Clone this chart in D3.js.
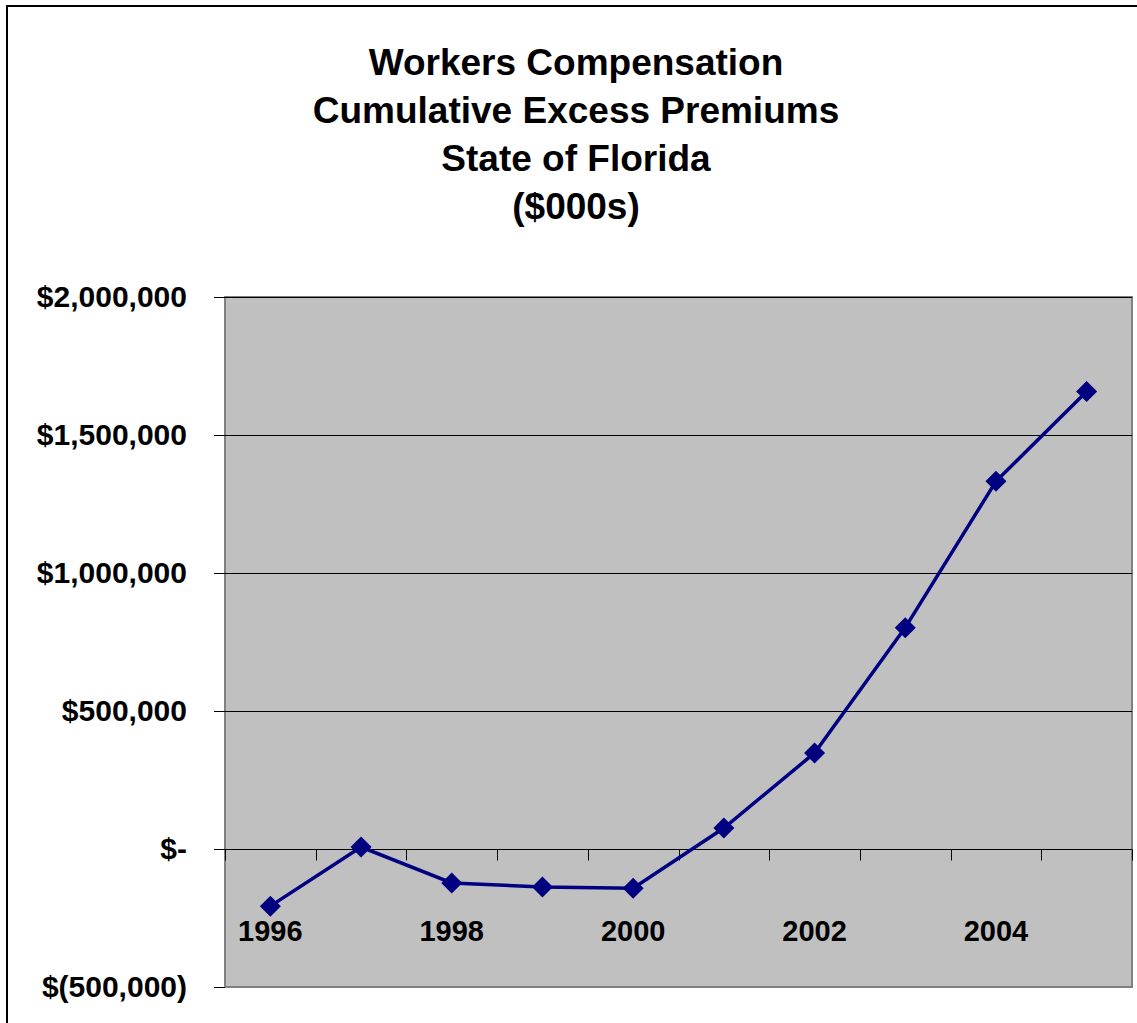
<!DOCTYPE html>
<html>
<head>
<meta charset="utf-8">
<script src="https://cdn.jsdelivr.net/npm/d3@7"></script>
<style>
body{margin:0;background:#fff;}
svg text{font-family:Arial,"Liberation Sans",sans-serif;font-weight:bold;fill:#000;}
</style>
</head>
<body>
<div id="grafica"></div>
<script>
// datos
var anios=["1996","1997","1998","1999","2000","2001","2002","2003","2004","2005"];
var premios=[-207000,7000,-123000,-138000,-142000,76000,348000,802000,1332000,1658000];
var ticksY=[-500000,0,500000,1000000,1500000,2000000];
var etiquetasX=["1996","1998","2000","2002","2004"];
var titulo=["Workers Compensation","Cumulative Excess Premiums","State of Florida","($000s)"];

var W=1137,H=1023;
var margin={top:297,left:225,right:5,bottom:36};
var ancho=W-margin.left-margin.right;
var alto=H-margin.top-margin.bottom;

var svg=d3.select("#grafica").append("svg")
	.attr("width",W).attr("height",H);

// marco exterior
svg.append("rect")
	.attr("x",7).attr("y",6)
	.attr("width",W+20).attr("height",H+20)
	.style("fill","none").style("stroke","#000").style("stroke-width",2);

// titulo
svg.selectAll(".titulo").data(titulo).enter().append("text")
	.attr("x",576).attr("y",(d,i)=>75+i*48)
	.attr("text-anchor","middle")
	.style("font-size","37px")
	.text(d=>d);

var g=svg.append("g").attr("transform","translate("+margin.left+","+margin.top+")");

var escalaX=d3.scaleBand().domain(anios).range([0,ancho]);
var escalaY=d3.scaleLinear().domain([-500000,2000000]).range([alto,0]);

// fondo
g.append("rect").attr("width",ancho).attr("height",alto)
	.style("fill","#c0c0c0").style("stroke","#808080").style("stroke-width",2);

// lineas de cuadricula
g.selectAll(".grid").data(ticksY.filter(d=>d!=-500000)).enter().append("line")
	.attr("x1",0).attr("x2",ancho)
	.attr("y1",d=>Math.round(escalaY(d))+0.5).attr("y2",d=>Math.round(escalaY(d))+0.5)
	.style("stroke","#000").style("stroke-width",1);

// eje y
var formato=function(d){
	if(d==0) return "$-";
	if(d<0) return "$("+d3.format(",")(-d)+")";
	return "$"+d3.format(",")(d);
};
var ejeY=g.append("g")
	.call(d3.axisLeft(escalaY).tickValues(ticksY).tickSize(11).tickPadding(27).tickFormat(formato));
ejeY.select(".domain").remove();
ejeY.selectAll("line").style("stroke","#000");
ejeY.selectAll("text").style("font-size","30px").attr("font-family",null);

// eje x (cruza en 0)
var ejeX=g.append("g").attr("transform","translate(0,"+(Math.round(escalaY(0))+0.5)+")");
ejeX.selectAll(".tk").data(anios.concat(["fin"])).enter().append("line")
	.attr("x1",(d,i)=>Math.round(i*escalaX.bandwidth())+0.5).attr("x2",(d,i)=>Math.round(i*escalaX.bandwidth())+0.5)
	.attr("y1",0).attr("y2",11)
	.style("stroke","#000");
ejeX.selectAll(".lab").data(etiquetasX).enter().append("text")
	.attr("x",d=>escalaX(d)+escalaX.bandwidth()/2)
	.attr("y",91)
	.attr("text-anchor","middle")
	.style("font-size","29px")
	.text(d=>d);

// linea
var datos=anios.map((a,i)=>({anio:a,valor:premios[i]}));
g.append("path").datum(datos)
	.attr("d",d3.line()
		.x(d=>escalaX(d.anio)+escalaX.bandwidth()/2)
		.y(d=>escalaY(d.valor)))
	.style("fill","none").style("stroke","#000080").style("stroke-width",3.5);

// marcadores
g.selectAll(".marca").data(datos).enter().append("path")
	.attr("transform",d=>"translate("+(escalaX(d.anio)+escalaX.bandwidth()/2)+","+escalaY(d.valor)+")")
	.attr("d","M0,-10.5L10.5,0L0,10.5L-10.5,0Z")
	.style("fill","#000080");
</script>
</body>
</html>
